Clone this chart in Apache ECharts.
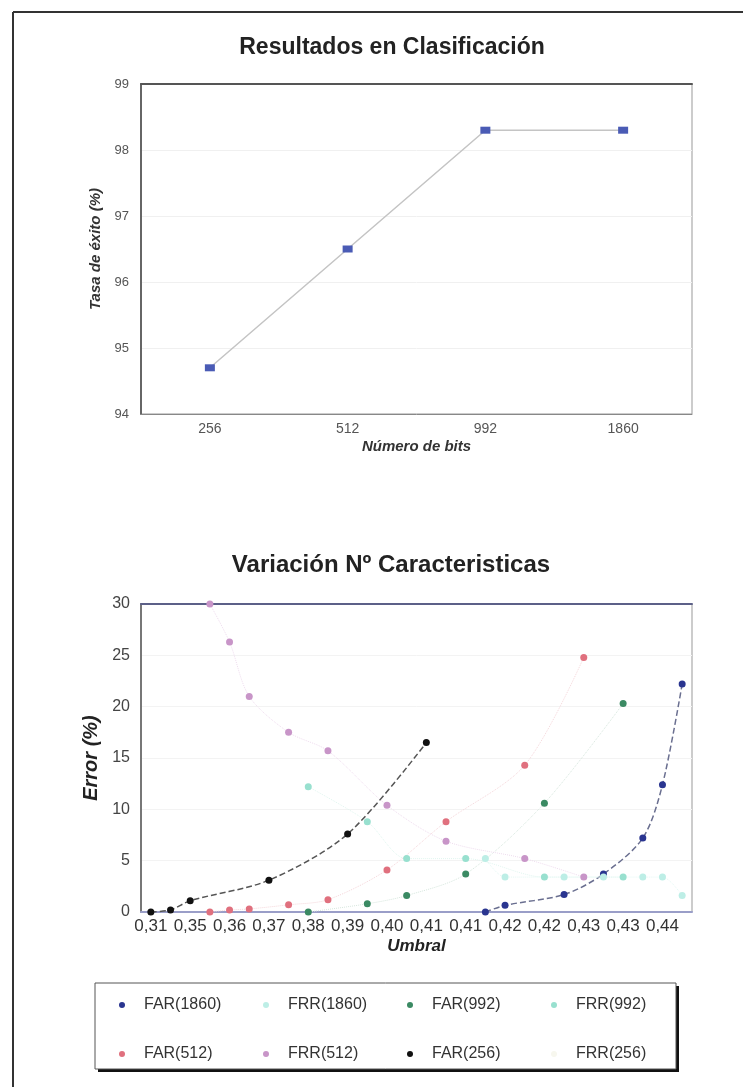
<!DOCTYPE html>
<html>
<head>
<meta charset="utf-8">
<script src="https://cdn.jsdelivr.net/npm/echarts@6/dist/echarts.min.js"></script>
<style>
  html, body { margin: 0; padding: 0; background: #fff; }
  #main { width: 743px; height: 1087px; }
</style>
</head>
<body>
<div id="main"></div>
<script>
// --- top chart data ---
const bits = ['256', '512', '992', '1860'];
const tasaExito = [94.7, 96.5, 98.3, 98.3];

// --- bottom chart data (28 umbral categories, every other label shown) ---
const umbral = ['0,31', '0,33', '0,35', '0,35', '0,36', '0,36', '0,37', '0,37',
  '0,38', '0,38', '0,39', '0,39', '0,40', '0,40', '0,41', '0,41', '0,41', '0,41',
  '0,42', '0,42', '0,42', '0,42', '0,43', '0,43', '0,43', '0,43', '0,44', '0,44'];
const _ = null;
const far1860 = [_, _, _, _, _, _, _, _, _, _, _, _, _, _, _, _, _, 0, 0.65, _, _, 1.7, _, 3.7, _, 7.2, 12.4, 22.2];
const frr1860 = [_, _, _, _, _, _, _, _, _, _, _, _, _, _, _, _, _, 5.2, 3.4, _, _, 3.4, _, 3.4, _, 3.4, 3.4, 1.6];
const far992 = [_, _, _, _, _, _, _, _, 0, _, _, 0.8, _, 1.6, _, _, 3.7, _, _, _, 10.6, _, _, _, 20.3, _, _, _];
const frr992 = [_, _, _, _, _, _, _, _, 12.2, _, _, 8.8, _, 5.2, _, _, 5.2, _, _, _, 3.4, _, _, _, 3.4, _, _, _];
const far512 = [_, _, _, 0, 0.2, 0.3, _, 0.7, _, 1.2, _, _, 4.1, _, _, 8.8, _, _, _, 14.3, _, _, 24.8, _, _, _, _, _];
const frr512 = [_, _, _, 30, 26.3, 21.0, _, 17.5, _, 15.7, _, _, 10.4, _, _, 6.9, _, _, _, 5.2, _, _, 3.4, _, _, _, _, _];
const far256 = [0, 0.2, 1.1, _, _, _, 3.1, _, _, _, 7.6, _, _, _, 16.5, _, _, _, _, _, _, _, _, _, _, _, _, _];
const frr256 = [];

const FONT = '"Liberation Sans", Arial, sans-serif';

const chart = echarts.init(document.getElementById('main'), null, { renderer: 'canvas' });

function errSeries(name, data, color, lineColor, lineType, lineWidth) {
  return {
    name: name,
    type: 'line',
    xAxisIndex: 1,
    yAxisIndex: 1,
    data: data,
    connectNulls: true,
    smooth: 0.3,
    symbol: 'circle',
    symbolSize: 7,
    itemStyle: { color: color },
    lineStyle: { color: lineColor, type: lineType, width: lineWidth },
    emphasis: { disabled: true },
    z: 3
  };
}

// top border of each plot is drawn as an extra axis line
function topBorder(grid, data, color, width) {
  return {
    gridIndex: grid, type: 'category', data: data, position: 'top',
    axisLine: { lineStyle: { color: color, width: width } },
    axisTick: { show: false }, axisLabel: { show: false }, splitLine: { show: false }
  };
}

const option = {
  animation: false,
  textStyle: { fontFamily: FONT },
  title: [
    {
      text: 'Resultados en Clasificación',
      left: 387, top: 31, textAlign: 'center',
      textStyle: { fontSize: 23, fontWeight: 'bold', color: '#222', fontFamily: FONT }
    },
    {
      text: 'Variación Nº Caracteristicas',
      left: 386, top: 548, textAlign: 'center',
      textStyle: { fontSize: 24, fontWeight: 'bold', color: '#222', fontFamily: FONT }
    }
  ],
  grid: [
    { left: 141, top: 84, width: 551, height: 330, show: true, borderColor: '#999', borderWidth: 1 },
    { left: 141, top: 604, width: 551, height: 308, show: true, borderColor: '#999', borderWidth: 1 }
  ],
  xAxis: [
    {
      gridIndex: 0, type: 'category', data: bits,
      name: 'Número de bits', nameLocation: 'middle', nameGap: 25,
      nameTextStyle: { fontSize: 15, fontStyle: 'italic', fontWeight: 'bold', color: '#333' },
      axisLine: { lineStyle: { color: '#888', width: 1 } },
      axisTick: { show: false },
      axisLabel: { fontSize: 14, color: '#555', margin: 8 }
    },
    {
      gridIndex: 1, type: 'category', data: umbral,
      name: 'Umbral', nameLocation: 'middle', nameGap: 26,
      nameTextStyle: { fontSize: 17, fontStyle: 'italic', fontWeight: 'bold', color: '#222' },
      axisLine: { lineStyle: { color: '#9a9ec8', width: 2 } },
      axisTick: { show: false },
      axisLabel: { interval: 1, fontSize: 17, color: '#333', margin: 6 }
    },
    topBorder(0, bits, '#555', 2),
    topBorder(1, umbral, '#5c6088', 2)
  ],
  yAxis: [
    {
      gridIndex: 0, type: 'value', min: 94, max: 99, interval: 1,
      name: 'Tasa de éxito (%)', nameLocation: 'middle', nameGap: 32,
      nameTextStyle: { fontSize: 15, fontStyle: 'italic', fontWeight: 'bold', color: '#333' },
      axisLine: { show: true, lineStyle: { color: '#666', width: 2 } },
      axisTick: { show: false },
      axisLabel: { fontSize: 13, color: '#555', margin: 12 },
      splitLine: { lineStyle: { color: '#f0f0f0' } }
    },
    {
      gridIndex: 1, type: 'value', min: 0, max: 30, interval: 5,
      name: 'Error (%)', nameLocation: 'middle', nameGap: 34,
      nameTextStyle: { fontSize: 20, fontStyle: 'italic', fontWeight: 'bold', color: '#222' },
      axisLine: { show: true, lineStyle: { color: '#777', width: 2 } },
      axisTick: { show: false },
      axisLabel: { fontSize: 16, color: '#444', margin: 11 },
      splitLine: { lineStyle: { color: '#f3f3f3' } }
    }
  ],
  legend: {
    data: ['FAR(1860)', 'FRR(1860)', 'FAR(992)', 'FRR(992)', 'FAR(512)', 'FRR(512)', 'FAR(256)', 'FRR(256)'],
    left: 114, top: 985, width: 570,
    icon: 'circle', itemWidth: 6, itemHeight: 6, itemGap: 19,
    selectedMode: false,
    textStyle: { fontSize: 16, color: '#333', width: 100, lineHeight: 30, padding: [0, 0, 0, 14] }
  },
  graphic: [
    // outer frame
    { type: 'line', shape: { x1: 13, y1: 12, x2: 743, y2: 12 }, style: { stroke: '#333', lineWidth: 2 } },
    { type: 'line', shape: { x1: 13, y1: 12, x2: 13, y2: 1087 }, style: { stroke: '#333', lineWidth: 2 } },
    // legend box with drop shadow
    { type: 'rect', shape: { x: 98, y: 986, width: 581, height: 86 }, style: { fill: '#111' }, z: -2 },
    { type: 'rect', shape: { x: 95, y: 983, width: 581, height: 86 }, style: { fill: '#fff', stroke: '#555', lineWidth: 1 }, z: -1 }
  ],
  series: [
    {
      name: 'Tasa', type: 'line', xAxisIndex: 0, yAxisIndex: 0, data: tasaExito,
      symbol: 'rect', symbolSize: [10, 7],
      itemStyle: { color: '#4a5bb5' },
      lineStyle: { color: '#c4c4c4', width: 1.5 },
      emphasis: { disabled: true }
    },
    errSeries('FAR(1860)', far1860, '#2a3590', '#6a6f90', 'dashed', 1.5),
    errSeries('FRR(1860)', frr1860, '#bdeee6', '#e3f7f3', 'dotted', 1),
    errSeries('FAR(992)', far992, '#3b8a63', '#d6e6dd', 'dotted', 1),
    errSeries('FRR(992)', frr992, '#98e0cf', '#e0f5ef', 'dotted', 1),
    errSeries('FAR(512)', far512, '#e0707e', '#f4d6da', 'dotted', 1),
    errSeries('FRR(512)', frr512, '#c895c8', '#eedcee', 'dotted', 1),
    errSeries('FAR(256)', far256, '#111111', '#555555', 'dashed', 1.5),
    errSeries('FRR(256)', frr256, '#f7f7ee', '#f7f7ee', 'dotted', 1)
  ]
};

chart.setOption(option);
</script>
</body>
</html>
